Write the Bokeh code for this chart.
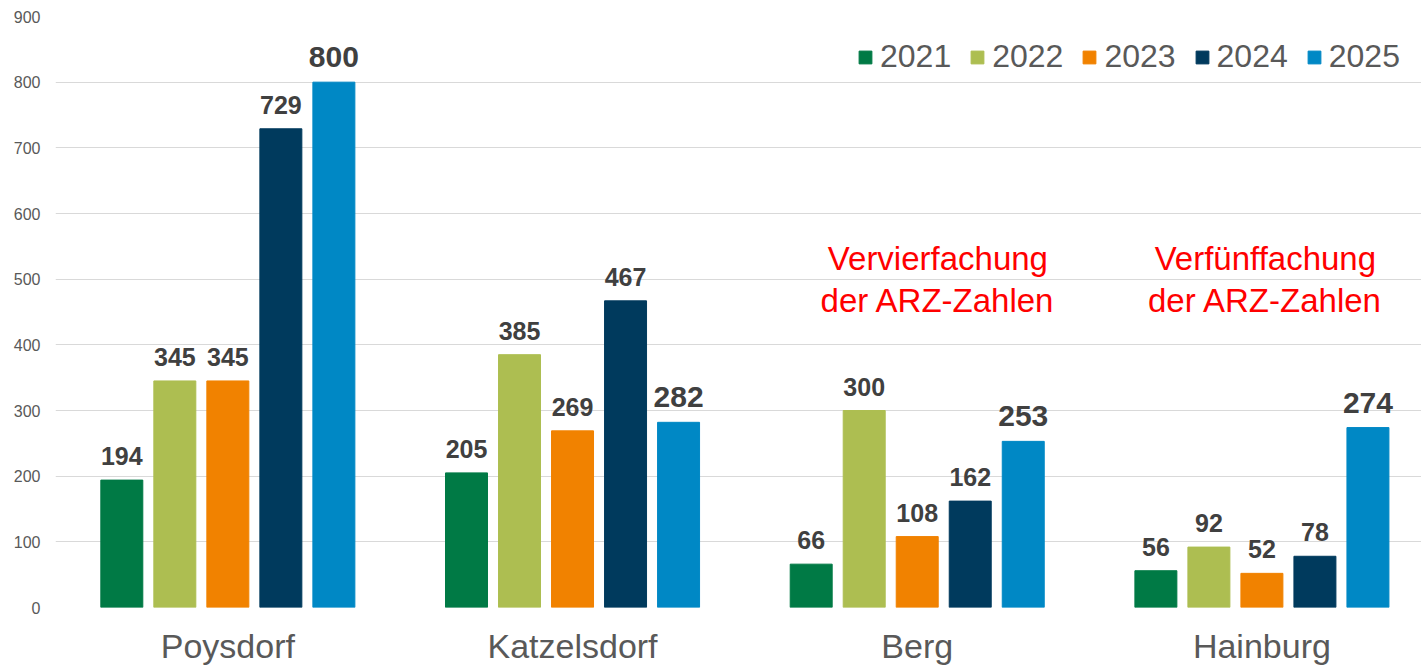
from bokeh.plotting import figure
from bokeh.models import ColumnDataSource, Range1d, FixedTicker, Legend, LegendItem
from bokeh.core.properties import value
from bokeh.embed import file_html
from bokeh.resources import INLINE

# ---- data ----
categories = ["Poysdorf", "Katzelsdorf", "Berg", "Hainburg"]
years = ["2021", "2022", "2023", "2024", "2025"]
v2021 = [194, 205, 66, 56]
v2022 = [345, 385, 300, 92]
v2023 = [345, 269, 108, 52]
v2024 = [729, 467, 162, 78]
v2025 = [800, 282, 253, 274]
series = [v2021, v2022, v2023, v2024, v2025]
colors = ["#007A45", "#ADBE51", "#F18200", "#003A5D", "#0088C5"]
label_sizes = ["25px", "25px", "25px", "25px", "30px"]
label_offsets = [-24, -24, -24, -24, -25]

annot_line1 = ["Vervierfachung", "Verfünffachung"]
annot_line2 = ["der ARZ-Zahlen", "der ARZ-Zahlen"]
annot_cat = [2, 3]
annot_dx = [0.06, 0.01]
annot_y1 = [532, 532]
annot_y2 = [468, 468]

y_ticks = [0, 100, 200, 300, 400, 500, 600, 700, 800, 900]

FONT = "Liberation Sans"
GRAY = "#595959"

p = figure(width=1421, height=667, output_backend="svg", toolbar_location=None,
           x_range=Range1d(0, 3.963), y_range=Range1d(0, 900),
           min_border_left=55, min_border_right=0, min_border_top=16, min_border_bottom=59)
p.outline_line_color = None
p.xgrid.grid_line_color = None
p.ygrid.grid_line_color = "#D9D9D9"
p.ygrid.grid_line_width = 1

step = 0.1538
bw = 0.1218
renderers = []
for i, (vals, col, fs, yo) in enumerate(zip(series, colors, label_sizes, label_offsets)):
    off = (i - 2) * step
    xs = [c + 0.5 + off for c in range(len(categories))]
    src = ColumnDataSource(dict(x=xs, top=vals, lab=[str(v) for v in vals]))
    r = p.vbar(x="x", top="top", width=bw, source=src, fill_color=col, line_color=col)
    renderers.append(r)
    p.text(x="x", y="top", text="lab", source=src, text_align="center",
           text_baseline="alphabetic", y_offset=yo,
           text_font=value(FONT), text_font_style="bold", text_font_size=fs,
           text_color="#404040")

# annotations
for c, dx, l1, l2, y1, y2 in zip(annot_cat, annot_dx, annot_line1, annot_line2, annot_y1, annot_y2):
    src = ColumnDataSource(dict(x=[c + 0.5 + dx, c + 0.5 + dx], y=[y1, y2], t=[l1, l2]))
    p.text(x="x", y="y", text="t", source=src, text_align="center", text_baseline="alphabetic",
           text_font=value(FONT), text_font_size="33px", text_color="#FF0000")

# axes
p.xaxis.ticker = FixedTicker(ticks=[c + 0.5 for c in range(len(categories))])
p.xaxis.major_label_overrides = {c + 0.5: name for c, name in enumerate(categories)}
p.xaxis.axis_line_color = None
p.xaxis.major_tick_line_color = None
p.xaxis.minor_tick_line_color = None
p.xaxis.major_tick_out = 0
p.xaxis.major_label_standoff = 19
p.xaxis.major_label_text_font = FONT
p.xaxis.major_label_text_font_size = "34px"
p.xaxis.major_label_text_color = GRAY

p.yaxis.ticker = FixedTicker(ticks=y_ticks)
p.yaxis.axis_line_color = None
p.yaxis.major_tick_line_color = None
p.yaxis.minor_tick_line_color = None
p.yaxis.major_tick_out = 0
p.yaxis.major_label_standoff = 15
p.yaxis.major_label_text_font = FONT
p.yaxis.major_label_text_font_size = "16px"
p.yaxis.major_label_text_color = GRAY

legend = Legend(items=[LegendItem(label=y, renderers=[r]) for y, r in zip(years, renderers)],
                orientation="horizontal", location=(802, 532),
                glyph_width=16, glyph_height=16, label_standoff=7, spacing=18,
                padding=0, margin=0, border_line_color=None, background_fill_alpha=0,
                label_text_font=FONT, label_text_font_size="32px", label_text_color=GRAY)
p.add_layout(legend)

open("out.html", "w").write(file_html(p, INLINE))
